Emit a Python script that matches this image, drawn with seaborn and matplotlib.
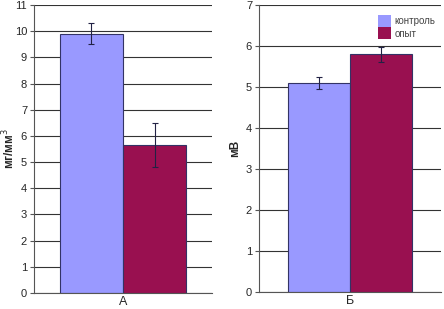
import numpy as np
import pandas as pd
import seaborn as sns
import matplotlib.pyplot as plt

# Значения с рисунка
groups = ["контроль", "опыт"]
panel_a_vals = [9.9, 5.65]
panel_a_err = [0.4, 0.85]
panel_b_vals = [5.1, 5.8]
panel_b_err = [0.15, 0.18]
colors = ["#9999FF", "#991050"]

sns.set_style("white")
plt.rcParams['font.family'] = ['Liberation Sans', 'DejaVu Sans']

fig = plt.figure(figsize=(4.44, 3.09), dpi=100)
ax1 = fig.add_axes([34/444, 1-293/309, 178/444, 288/309])
ax2 = fig.add_axes([259/444, 1-292/309, 182/444, 287/309])


def draw(ax, cat, vals, errs, ymax, ylabel, xmax, legend=False):
    df = pd.DataFrame({"cat": [cat] * 2, "group": groups, "val": vals})
    sns.barplot(data=df, x="cat", y="val", hue="group", palette=colors,
                saturation=1, errorbar=None, width=0.8, edgecolor="#333366",
                linewidth=0.8, legend=legend, ax=ax)
    bars = [p for p in ax.patches if p.get_height() > 0]
    xs = [p.get_x() + p.get_width() / 2 for p in bars]
    hs = [p.get_height() for p in bars]
    ax.errorbar(xs, hs, yerr=errs, fmt="none", ecolor="#222244",
                elinewidth=0.8, capsize=2, capthick=0.8, zorder=5)
    ax.set_ylim(0, ymax)
    ax.set_xlim(-xmax, xmax)
    ax.set_yticks(range(0, ymax + 1))
    ax.yaxis.grid(True, color="#333333", linewidth=0.8)
    ax.set_axisbelow(True)
    for s in ["top", "right"]:
        ax.spines[s].set_visible(False)
    ax.spines["left"].set_color("#555555")
    ax.spines["bottom"].set_color("#555555")
    ax.tick_params(axis="y", length=3, direction="out", left=True,
                   labelsize=8, color="#555555", pad=2)
    ax.tick_params(axis="x", length=0, labelsize=9, pad=2)
    ax.set_xlabel("")
    ax.set_ylabel(ylabel, fontsize=8.5, fontweight="bold")


draw(ax1, "А", panel_a_vals, panel_a_err, 11, "мг/мм$^3$", 0.565)
draw(ax2, "Б", panel_b_vals, panel_b_err, 7, "мВ", 0.59, legend=True)
ax1.yaxis.set_label_coords(-17/178, 0.5)
ax2.yaxis.set_label_coords(-18/182, 0.5)

leg = ax2.legend(loc="upper right", bbox_to_anchor=(1.0, 0.985), frameon=True,
                 fontsize=7, handlelength=1.4, handleheight=1.5,
                 handletextpad=0.3, borderpad=0.1, labelspacing=0.05,
                 edgecolor="white", framealpha=1)
for h in leg.legend_handles:
    h.set_edgecolor("none")
for t in leg.get_texts():
    t.set_color("#444444")

fig.savefig("out.png", dpi=100)
